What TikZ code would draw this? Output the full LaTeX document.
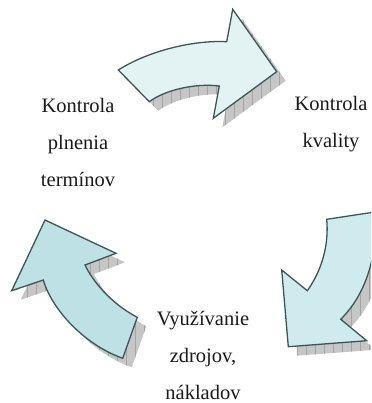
\documentclass[tikz,border=0pt]{standalone}
\usepackage{fontspec}
\setmainfont{Liberation Serif}
\definecolor{edgec}{HTML}{3D5556}
\definecolor{topfill}{HTML}{E3F3F4}
\definecolor{rightfill}{HTML}{D0EBED}
\definecolor{leftfill}{HTML}{BDE1E5}
\definecolor{shadowc}{HTML}{C6C6C6}
\definecolor{gridc}{HTML}{A4A4A4}
\definecolor{txt}{HTML}{1A1A1A}
\newcommand{\arrTop}{(118.3,70) .. controls (150,50) and (195,40) .. (226.7,41.7) -- (232.7,9.3) -- (276.7,71.7) -- (213.3,118.3) -- (219.3,86) .. controls (195,83) and (165,90) .. (149.3,101.7) -- cycle}
\newcommand{\arrRight}{(326.7,219.3) -- (378,211.5) .. controls (376,255) and (368,292) .. (340.7,319.3) -- (366.7,340.7) -- (288.3,346.7) -- (281.7,270) -- (307.3,290.7) .. controls (322,270) and (329,245) .. cycle}
\newcommand{\arrLeft}{(45,220) -- (116,253.3) -- (85,265) .. controls (92,280) and (110,303) .. (137.3,317.3) -- (122.7,358.3) .. controls (85,345) and (52,310) .. (43.3,280) -- (11.7,290.7) -- cycle}
\tikzset{
  arrowshape/.style={draw=edgec, line width=1.3pt, line join=miter},
  label/.style={font=\fontsize{20.5}{37}\selectfont, text=txt, align=center, inner sep=0pt}
}
\newcommand{\shadowof}[1]{%
  \begin{scope}[shift={(9,9)}]
    \clip #1;
    \fill[shadowc] (-20,-20) rectangle (400,420);
    \draw[gridc, line width=0.4pt, step=9] (-20,-20) grid (400,420);
  \end{scope}}
\begin{document}
\begin{tikzpicture}[x=1pt,y=-1pt]
\useasboundingbox (0,0) rectangle (371,403);
\clip (0,0) rectangle (371,403);
\shadowof{\arrTop}
\shadowof{\arrRight}
\shadowof{\arrLeft}
\path[arrowshape, fill=topfill] \arrTop;
\path[arrowshape, fill=rightfill] \arrRight;
\path[arrowshape, fill=leftfill] \arrLeft;
\node[label] (kpt) at (78,142) {Kontrola\\plnenia\\termínov};
\node[label] (kk) at (331,124) {Kontrola\\kvality};
\node[label] (vz) at (203,355) {Využívanie\\zdrojov,\\nákladov};
\end{tikzpicture}
\end{document}
